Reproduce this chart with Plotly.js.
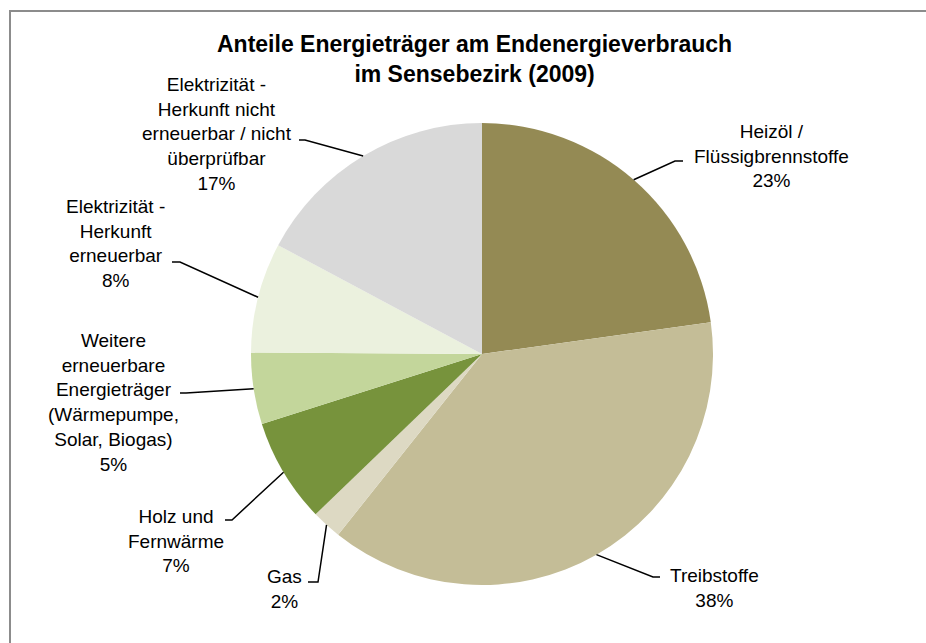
<!DOCTYPE html>
<html>
<head>
<meta charset="utf-8">
<script src="https://cdn.plot.ly/plotly-3.0.1.min.js"></script>
<style>
  html, body { margin: 0; padding: 0; background: #fff; }
  #wrap { position: relative; width: 926px; height: 643px; overflow: hidden; }
  #chart { width: 926px; height: 643px; }
  #frame { position: absolute; left: 9px; top: 10px; width: 1000px; height: 1000px;
           border-left: 2px solid #8c8c8c; border-top: 2px solid #8c8c8c; pointer-events: none; }
</style>
</head>
<body>
<div id="wrap"><div id="chart"></div><div id="frame"></div></div>
<script>
// ---- data ----
const categories = [
  "Heizöl / Flüssigbrennstoffe",
  "Treibstoffe",
  "Gas",
  "Holz und Fernwärme",
  "Weitere erneuerbare Energieträger (Wärmepumpe, Solar, Biogas)",
  "Elektrizität - Herkunft erneuerbar",
  "Elektrizität - Herkunft nicht erneuerbar / nicht überprüfbar"
];
const labelLines = [
  ["Heizöl /", "Flüssigbrennstoffe"],
  ["Treibstoffe"],
  ["Gas"],
  ["Holz und", "Fernwärme"],
  ["Weitere", "erneuerbare", "Energieträger", "(Wärmepumpe,", "Solar, Biogas)"],
  ["Elektrizität -", "Herkunft", "erneuerbar"],
  ["Elektrizität -", "Herkunft nicht", "erneuerbar / nicht", "überprüfbar"]
];
const shares = [22.8, 37.9, 2.1, 7.3, 5.0, 7.7, 17.2];
const titleText = "Anteile Energieträger am Endenergieverbrauch<br>im Sensebezirk (2009)";

// ---- style / layout ----
const W = 926, H = 643;
const colors = ["#948A54", "#C4BD97", "#DDD9C3", "#77933C", "#C3D69B", "#EBF1DE", "#D9D9D9"];
const pieCx = 482, pieCy = 354, pieR = 231;
// label block centre (px) and leader elbow / end (px)
const labelPos = [
  {x: 771, y: 156, elbow: [675, 161], end: [683, 161]},
  {x: 714, y: 588, elbow: [653, 577], end: [660, 577]},
  {x: 284, y: 589, elbow: [318, 582], end: [308, 582]},
  {x: 176, y: 541, elbow: [232, 520], end: [225, 520]},
  {x: 113, y: 402, elbow: [186, 393], end: [180, 393]},
  {x: 116, y: 243, elbow: [180, 262], end: [172, 262]},
  {x: 217, y: 134, elbow: [305, 140], end: [299, 140]}
];
const px = x => x / W, py = y => 1 - y / H;
const labelFont = {family: "Liberation Sans, Arial, sans-serif", size: 19, color: "#000"};

const total = shares.reduce((a, b) => a + b, 0);
const annotations = [], shapes = [];
let cum = 0;
shares.forEach((v, i) => {
  const mid = (cum + v / 2) / total * 2 * Math.PI;
  cum += v;
  const tip = [pieCx + pieR * Math.sin(mid), pieCy - pieR * Math.cos(mid)];
  const lp = labelPos[i];
  const pct = Math.round(v / total * 100) + "%";
  annotations.push({
    xref: "paper", yref: "paper", x: px(lp.x), y: py(lp.y),
    xanchor: "center", yanchor: "middle", align: "center", showarrow: false,
    text: labelLines[i].concat([pct]).join("<br>"), font: labelFont
  });
  shapes.push({
    type: "path", xref: "paper", yref: "paper",
    path: `M ${px(tip[0])},${py(tip[1])} L ${px(lp.elbow[0])},${py(lp.elbow[1])} L ${px(lp.end[0])},${py(lp.end[1])}`,
    line: {color: "#000", width: 1.5}
  });
});

// chart title as a positioned annotation
annotations.push({
  xref: "paper", yref: "paper", x: px(475), y: py(59),
  xanchor: "center", yanchor: "middle", align: "center", showarrow: false,
  text: titleText,
  font: {family: "Liberation Sans, Arial, sans-serif", size: 23, color: "#000", weight: "bold"}
});

const trace = {
  type: "pie",
  labels: categories,
  values: shares,
  sort: false,
  direction: "clockwise",
  rotation: 0,
  textinfo: "none",
  hoverinfo: "label+percent",
  marker: {colors: colors, line: {width: 0}},
  domain: {x: [px(pieCx - pieR), px(pieCx + pieR)], y: [py(pieCy + pieR), py(pieCy - pieR)]},
  showlegend: false
};

const layout = {
  width: W, height: H,
  margin: {l: 0, r: 0, t: 0, b: 0},
  paper_bgcolor: "#fff",
  showlegend: false,
  annotations: annotations,
  shapes: shapes
};

Plotly.newPlot("chart", [trace], layout, {displayModeBar: false, staticPlot: true});
</script>
</body>
</html>
